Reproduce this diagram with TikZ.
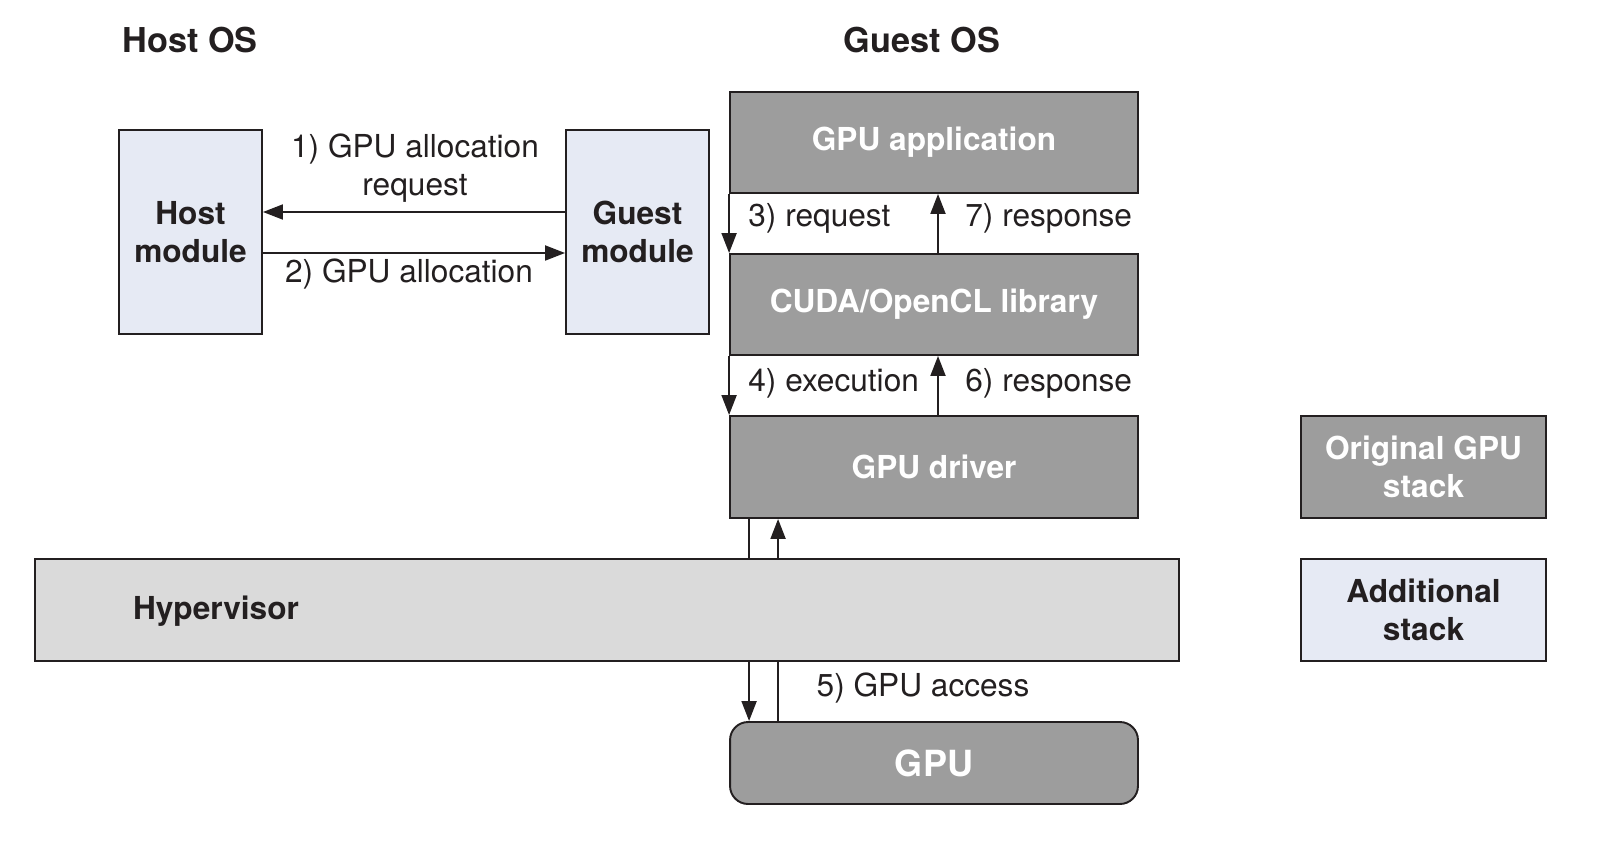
\documentclass[tikz,border=0pt]{standalone}
\usepackage{fontspec}
\setmainfont{TeX Gyre Heros}
\usetikzlibrary{arrows.meta}
\definecolor{extrablue}{HTML}{E6EAF4}
\definecolor{stackgray}{HTML}{9D9D9D}
\definecolor{hypergray}{HTML}{DADADA}
\definecolor{inkline}{HTML}{231F20}
\newcommand\LabelFont{\fontsize{18}{21.5}\selectfont}
\tikzset{
    layer/.style={draw=inkline, line width=1.1pt, fill=stackgray, text=white,
        font=\LabelFont\bfseries, align=center, inner sep=0pt,
        minimum width=8.16cm, minimum height=2.02cm},
    extra/.style={draw=inkline, line width=1.1pt, fill=extrablue, text=inkline,
        font=\LabelFont\bfseries, align=center, inner sep=0pt},
    flow/.style={draw=inkline, line width=1.1pt, -{Triangle[length=0.4cm,width=0.3cm]}},
    wire/.style={draw=inkline, line width=1.1pt},
    steplabel/.style={text=inkline, font=\LabelFont, align=center, inner sep=0pt},
    heading/.style={text=inkline, font=\fontsize{19.5}{23}\selectfont\bfseries, inner sep=0pt},
}

\begin{document}
\begin{tikzpicture}[x=0.02cm, y=-0.02cm]
    \useasboundingbox (0,0) rectangle (1608,848);
    \node[heading] (HostOS) at (190,40) {Host OS};
    \node[heading] (GuestOS) at (922,40) {Guest OS};
    % host and guest modules
    \node[extra, minimum width=2.86cm, minimum height=4.08cm] (HostMod) at (190.5,232) {Host\\module};
    \node[extra, minimum width=2.86cm, minimum height=4.08cm] (GuestMod) at (637.5,232) {Guest\\module};
    \draw[flow] ([yshift=0.4cm]GuestMod.west) -- ([yshift=0.4cm]HostMod.east);
    \draw[flow] ([yshift=-0.42cm]HostMod.east) -- ([yshift=-0.42cm]GuestMod.west);
    \node[steplabel] (ReqLabel) at (415,168) {1) GPU allocation\\request};
    \node[steplabel] (AllocLabel) at (409,274) {2) GPU allocation};
    % original GPU stack
    \node[layer] (GpuApp) at (934,142.5) {GPU application};
    \node[layer] (Cuda) at (934,304.5) {CUDA/OpenCL library};
    \node[layer, minimum height=2.04cm] (Driver) at (934,467) {GPU driver};
    \draw[flow] (GpuApp.south west) -- (Cuda.north west);
    \draw[flow] ([xshift=0.08cm]Cuda.north) -- ([xshift=0.08cm]GpuApp.south);
    \draw[flow] (Cuda.south west) -- (Driver.north west);
    \draw[flow] ([xshift=0.08cm]Driver.north) -- ([xshift=0.08cm]Cuda.south);
    \node[steplabel, anchor=west] (ReqThree) at (748,218) {3) request};
    \node[steplabel, anchor=west] (RespSeven) at (965,218) {7) response};
    \node[steplabel, anchor=west] (ExecFour) at (748,383) {4) execution};
    \node[steplabel, anchor=west] (RespSix) at (965,383) {6) response};
    % hypervisor and GPU
    \node[draw=inkline, line width=1.1pt, fill=hypergray, minimum width=22.88cm, minimum height=2.04cm, inner sep=0pt] (Hyper) at (607,610) {};
    \node[heading, font=\LabelFont\bfseries] (HyperLabel) at (216,611) {Hypervisor};
    \node[layer, rounded corners=0.36cm, minimum height=1.64cm, font=\fontsize{20.5}{24}\selectfont\bfseries] (Gpu) at (934,763) {GPU};
    \coordinate (DownTop) at ([xshift=0.4cm]Driver.south west);
    \coordinate (UpBot) at ([xshift=0.98cm]Gpu.north west);
    \draw[wire] (DownTop) -- (DownTop |- Hyper.north);
    \draw[flow] (DownTop |- Hyper.south) -- (DownTop |- Gpu.north);
    \draw[wire] (UpBot) -- (UpBot |- Hyper.south);
    \draw[flow] (UpBot |- Hyper.north) -- (UpBot |- Driver.south);
    \node[steplabel] (AccessLabel) at (923,688) {5) GPU access};
    % legend
    \node[layer, minimum width=4.9cm, minimum height=2.04cm] (LegendOrig) at (1423.5,467) {Original GPU\\stack};
    \node[extra, minimum width=4.9cm, minimum height=2.04cm] (LegendExtra) at (1423.5,610) {Additional\\stack};
\end{tikzpicture}
\end{document}
